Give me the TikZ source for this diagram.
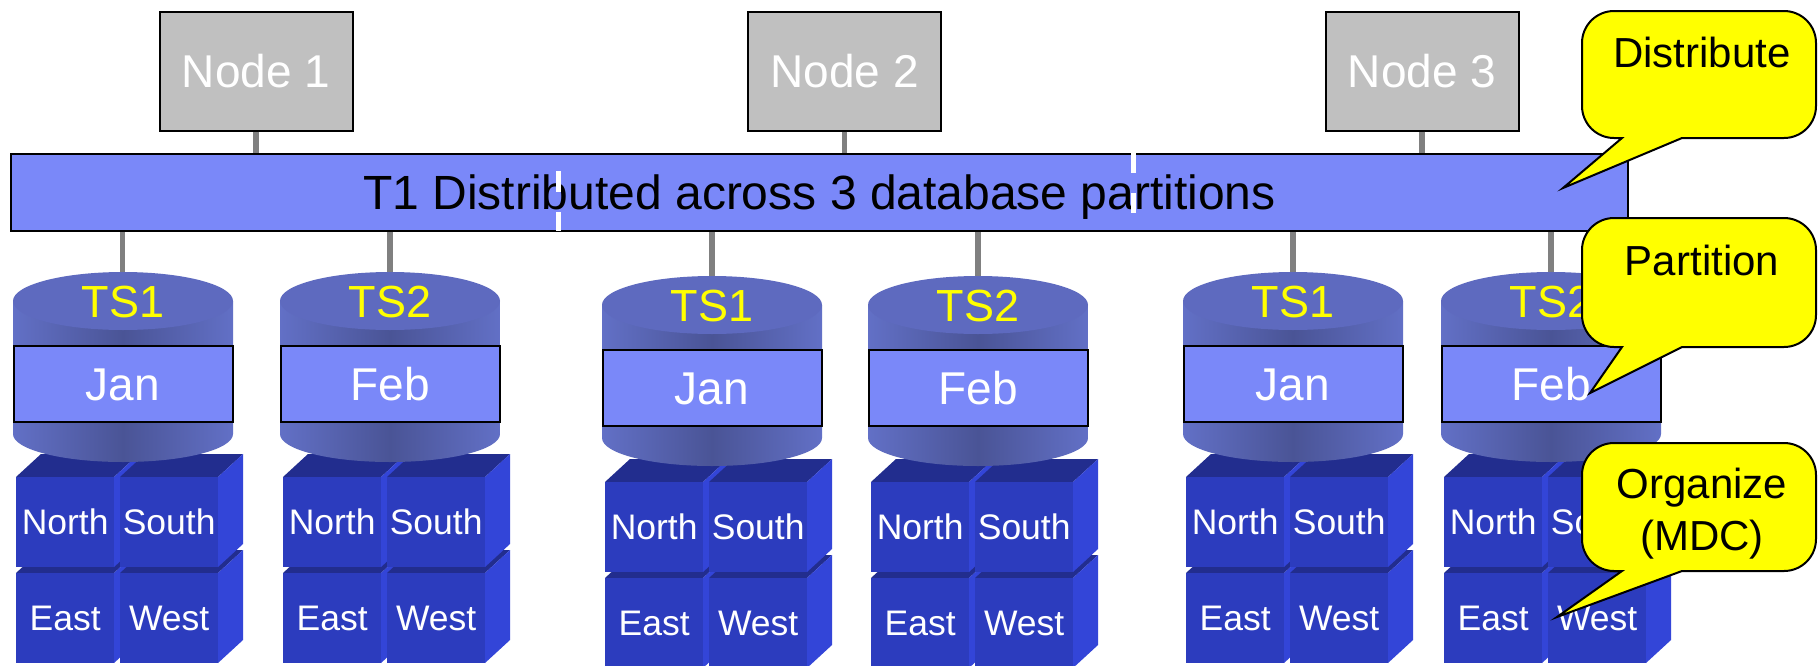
\documentclass[tikz,border=0pt]{standalone}
\usepackage{fontspec}
\setmainfont{Liberation Sans}
\definecolor{barblue}{HTML}{7A88F9}
\definecolor{nodegray}{HTML}{C0C0C0}
\definecolor{linegray}{HTML}{808080}
\definecolor{cyltop}{HTML}{5E6ABF}
\definecolor{cylmid}{HTML}{4A5496}
\definecolor{cyledge}{HTML}{6270C6}
\definecolor{cubefrontc}{HTML}{2C3CBE}
\definecolor{cubetopc}{HTML}{222D8E}
\definecolor{cubesidec}{HTML}{3345D8}
\definecolor{balloonyellow}{HTML}{FFFF00}
\tikzset{
  link/.style={draw=linegray, line width=5.5pt},
  hostbox/.style={draw=black, line width=2pt, fill=nodegray, minimum width=193pt, minimum height=119pt, inner sep=0pt, text=white, font=\fontsize{46}{50}\selectfont, text height=33pt, text depth=0pt},
  barbox/.style={draw=black, line width=2pt, fill=barblue, minimum width=1617pt, minimum height=77pt, inner sep=0pt, text=black, font=\fontsize{48}{50}\selectfont, text height=34.4pt, text depth=0pt},
  tslabel/.style={inner sep=0pt, text=balloonyellow, font=\fontsize{45}{50}\selectfont, text height=32.2pt, text depth=0pt},
  monthbox/.style={draw=black, line width=2pt, fill=barblue, minimum width=219pt, minimum height=76pt, inner sep=0pt, text=white, font=\fontsize{46}{50}\selectfont, text height=33pt, text depth=0pt},
  cubefront/.style={fill=cubefrontc, minimum width=98pt, minimum height=90pt, inner sep=0pt, text=white, font=\fontsize{35.5}{40}\selectfont, text height=25.4pt, text depth=0pt, anchor=north west},
  cubetop/.style={fill=cubetopc},
  cubeside/.style={fill=cubesidec},
  balloon/.style={draw=black, line width=2pt, fill=balloonyellow, line join=miter},
  balloontext/.style={inner sep=0pt, text=black, font=\fontsize{42}{46}\selectfont, anchor=base},
  sepline/.style={draw=white, line width=5pt},
}
% cube: #1 name, #2 x (front top-left), #3 y, #4 label
\newcommand\mdcube[4]{%
  \fill[cubetop] (#2,#3) -- ++(25,-23) -- ++(98,0) -- ++(-25,23) -- cycle;
  \fill[cubeside] ({#2+98},#3) -- ++(25,-23) -- ++(0,90) -- ++(-25,23) -- cycle;
  \node[cubefront] (#1) at (#2,#3) {#4};
}
% group of four cubes: #1 name prefix, #2 left x, #3 top y
\newcommand\cubeset[3]{%
  \mdcube{#1-east}{#2+3}{#3+96}{East}
  \mdcube{#1-west}{#2+107}{#3+96}{West}
  \mdcube{#1-north}{#2+3}{#3}{North}
  \mdcube{#1-south}{#2+107}{#3}{South}
}
% cylinder: #1 name, #2 left x, #3 top ellipse centre y, #4 TS label, #5 month
\newcommand\tscyl[5]{%
  \shade[left color=cyledge, right color=cyledge, middle color=cylmid]
    (#2,#3) -- (#2,{#3+133}) arc[start angle=180, end angle=360, x radius=110pt, y radius=28pt] -- ({#2+220},#3) -- cycle;
  \fill[cyltop] ({#2+110},#3) ellipse[x radius=110pt, y radius=29pt];
  \node[tslabel] (#1-ts) at ({#2+110},#3) {#4};
  \node[monthbox] (#1-m) at ({#2+110},{#3+83}) {#5};
}
% callout: #1 top, #2 bottom, #3 tip x, #4 tip y
\newcommand\balloonshape[4]{%
  \draw[balloon] (1622,#2) -- (#3,#4) -- (1682,#2) -- (1784,#2)
    arc[start angle=270, end angle=360, radius=32pt] -- (1816,{#1+32})
    arc[start angle=0, end angle=90, radius=32pt] -- (1614,#1)
    arc[start angle=90, end angle=180, radius=32pt] -- (1582,{#2-32})
    arc[start angle=180, end angle=270, radius=32pt] -- cycle;
}
\begin{document}
\begin{tikzpicture}[x=1pt, y=-1pt]
\useasboundingbox[fill=white] (0,0) rectangle (1818,665);

% hosts and the distributed table
\node[hostbox] (n1) at (256,71) {Node 1};
\node[hostbox] (n2) at (844.5,71) {Node 2};
\node[hostbox] (n3) at (1422,71) {Node 3};
\node[barbox] (bar) at (819.5,192.5) {T1 Distributed across 3 database partitions};
\draw[sepline, dash pattern=on 21pt off 20pt] (558,171) -- (558,231);
\draw[sepline, dash pattern=on 20pt off 20pt] (1133,153) -- (1133,231);
\draw[link] (n1.south) -- (n1.south |- bar.north);
\draw[link] (n2.south) -- (n2.south |- bar.north);
\draw[link] (n3.south) -- (n3.south |- bar.north);

% connection points of the table spaces
\coordinate (c1) at (122.5,280);
\coordinate (c2) at (390,280);
\coordinate (c3) at (712,284);
\coordinate (c4) at (978,284);
\coordinate (c5) at (1293,280);
\coordinate (c6) at (1551,280);
\foreach \c in {c1,c2,c3,c4,c5,c6}{
  \draw[link] (\c |- bar.south) -- (\c);
}

% cubes (MDC cells)
\cubeset{k1}{13}{477}
\cubeset{k2}{280}{477}
\cubeset{k3}{602}{482}
\cubeset{k4}{868}{482}
\cubeset{k5}{1183}{477}
\cubeset{k6}{1441}{477}

% table spaces
\tscyl{t1}{13}{301}{TS1}{Jan}
\tscyl{t2}{280}{301}{TS2}{Feb}
\tscyl{t3}{602}{305}{TS1}{Jan}
\tscyl{t4}{868}{305}{TS2}{Feb}
\tscyl{t5}{1183}{301}{TS1}{Jan}
\tscyl{t6}{1441}{301}{TS2}{Feb}

% callouts
\balloonshape{11}{138}{1563}{188}
\node[balloontext] (cDist) at (1702,67) {Distribute};
\balloonshape{218}{347}{1590}{393}
\node[balloontext] (cPart) at (1702,275) {Partition};
\balloonshape{443}{571}{1557}{617}
\node[balloontext] (cOrg) at (1702,498) {Organize};
\node[balloontext] (cMdc) at (1702,550) {(MDC)};
\end{tikzpicture}
\end{document}
